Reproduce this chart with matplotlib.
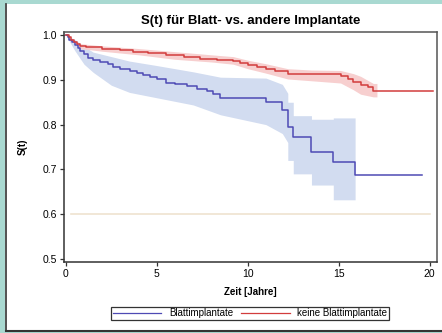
import numpy as np
import matplotlib.pyplot as plt
from matplotlib.patches import Rectangle
from matplotlib.lines import Line2D

plt.rcParams['font.family'] = ['Liberation Sans', 'DejaVu Sans']

# Kaplan-Meier estimate, Blattimplantate
blatt_t = [0, 0.1, 0.2, 0.35, 0.5, 0.65, 0.8, 1.0, 1.2, 1.5, 1.9, 2.3, 2.6, 3.0, 3.5,
           3.9, 4.25, 4.6, 5.0, 5.5, 6.0, 6.65, 7.2, 7.75, 8.1, 8.5, 11.0, 11.9, 12.2,
           12.5, 13.5, 14.7, 15.9, 19.6]
blatt_s = [1.0, 0.995, 0.99, 0.985, 0.978, 0.972, 0.965, 0.958, 0.95, 0.945, 0.94, 0.935,
           0.929, 0.925, 0.92, 0.915, 0.911, 0.907, 0.903, 0.893, 0.89, 0.886, 0.88, 0.875,
           0.868, 0.86, 0.851, 0.833, 0.795, 0.772, 0.738, 0.717, 0.6875, 0.6875]
# confidence band, Blattimplantate
blatt_band_t = [0, 0.5, 1.0, 1.5, 2.5, 3.5, 5.0, 7.0, 8.5, 11.0, 11.9, 12.2, 12.2, 12.5,
                12.5, 13.5, 13.5, 14.7, 14.7, 15.9]
blatt_lo = [1.0, 0.965, 0.935, 0.917, 0.888, 0.872, 0.86, 0.844, 0.822, 0.80, 0.78, 0.76,
            0.72, 0.72, 0.69, 0.69, 0.665, 0.665, 0.632, 0.632]
blatt_hi = [1.0, 0.99, 0.975, 0.962, 0.952, 0.942, 0.932, 0.918, 0.906, 0.904, 0.89, 0.87,
            0.85, 0.85, 0.82, 0.82, 0.812, 0.812, 0.815, 0.815]

# Kaplan-Meier estimate, keine Blattimplantate
keine_t = [0, 0.15, 0.3, 0.45, 0.6, 0.8, 1.1, 2.0, 3.0, 3.7, 4.5, 5.5, 6.5, 7.4, 8.3, 9.2,
           9.6, 10.0, 10.5, 11.0, 11.5, 12.2, 15.1, 15.5, 15.8, 16.2, 16.6, 16.9, 20.2]
keine_s = [1.0, 0.995, 0.99, 0.985, 0.98, 0.976, 0.974, 0.970, 0.966, 0.963, 0.960, 0.956,
           0.951, 0.947, 0.945, 0.942, 0.938, 0.933, 0.928, 0.924, 0.92, 0.913, 0.908, 0.902,
           0.896, 0.888, 0.883, 0.876, 0.876]
keine_band_t = [0, 0.8, 2, 4, 6, 8, 9.2, 10, 11, 12.2, 13.5, 15.1, 15.8, 16.2, 16.9, 17.1]
keine_lo = [1.0, 0.970, 0.964, 0.956, 0.946, 0.940, 0.935, 0.925, 0.915, 0.902, 0.898,
            0.893, 0.878, 0.868, 0.862, 0.862]
keine_hi = [1.0, 0.981, 0.976, 0.970, 0.963, 0.956, 0.952, 0.944, 0.936, 0.925, 0.922,
            0.921, 0.914, 0.908, 0.892, 0.892]

labels = ['Blattimplantate', 'keine Blattimplantate']
blue = '#4e4ab4'
red = '#d23c3c'

fig = plt.figure(figsize=(4.42, 3.33), dpi=100, facecolor='#a9d9d1')
# white panel with dark left/bottom edge
fig.patches.append(Rectangle((5/442, 2/333), 1, 327/333, transform=fig.transFigure,
                             facecolor='white', edgecolor='none', zorder=-5))
fig.add_artist(Line2D([5.5/442, 5.5/442], [2/333, 329/333], color='#333333', lw=1.2, zorder=-4))
fig.add_artist(Line2D([5.5/442, 1], [2.5/333, 2.5/333], color='#333333', lw=1.5, zorder=-4))

ax = fig.add_axes([64/442, 1-262/333, 373/442, 230/333])
ax.set_facecolor('white')
ax.fill_between(blatt_band_t, blatt_lo, blatt_hi, color='#d2dcf0', lw=0)
ax.fill_between(keine_band_t, keine_lo, keine_hi, color='#f7cfcf', lw=0)
ax.axhline(0.6, xmin=0.02, xmax=0.98, color='#efe3d0', lw=1.2, zorder=0.5)
ax.step(blatt_t, blatt_s, where='post', color=blue, lw=1.1, label=labels[0])
ax.step(keine_t, keine_s, where='post', color=red, lw=1.1, label=labels[1])

ax.set_xlim(-0.1, 20.4)
ax.set_ylim(0.493, 1.007)
ax.set_xticks([0, 5, 10, 15, 20])
ax.set_yticks([0.5, 0.6, 0.7, 0.8, 0.9, 1.0])
ax.set_yticklabels(['0.5', '0.6', '0.7', '0.8', '0.9', '1.0'])
ax.tick_params(labelsize=7.5, length=3, width=0.9, color='#333333', pad=2)
for s in ax.spines.values():
    s.set_color('#555555')
    s.set_linewidth(1.1)
ax.spines['left'].set_color('#333333')
ax.spines['bottom'].set_color('#333333')

ax.set_title('S(t) für Blatt- vs. andere Implantate', fontsize=9.5, weight='bold', pad=6)
ax.set_xlabel('Zeit [Jahre]', fontsize=7, weight='bold', labelpad=6)
ax.set_ylabel('S(t)', fontsize=7, weight='bold', labelpad=11)

handles = [Line2D([0], [0], color=blue, lw=0.9), Line2D([0], [0], color=red, lw=0.9)]
leg = fig.legend(handles, labels, loc='center', bbox_to_anchor=(250/442, 1-313.5/333), ncol=2,
                 fontsize=7, handlelength=5, handletextpad=0.8, columnspacing=0.8,
                 borderpad=0.15, frameon=True, fancybox=False, edgecolor='black')
leg.get_frame().set_linewidth(0.9)

plt.savefig('out.png', dpi=100, facecolor=fig.get_facecolor())
